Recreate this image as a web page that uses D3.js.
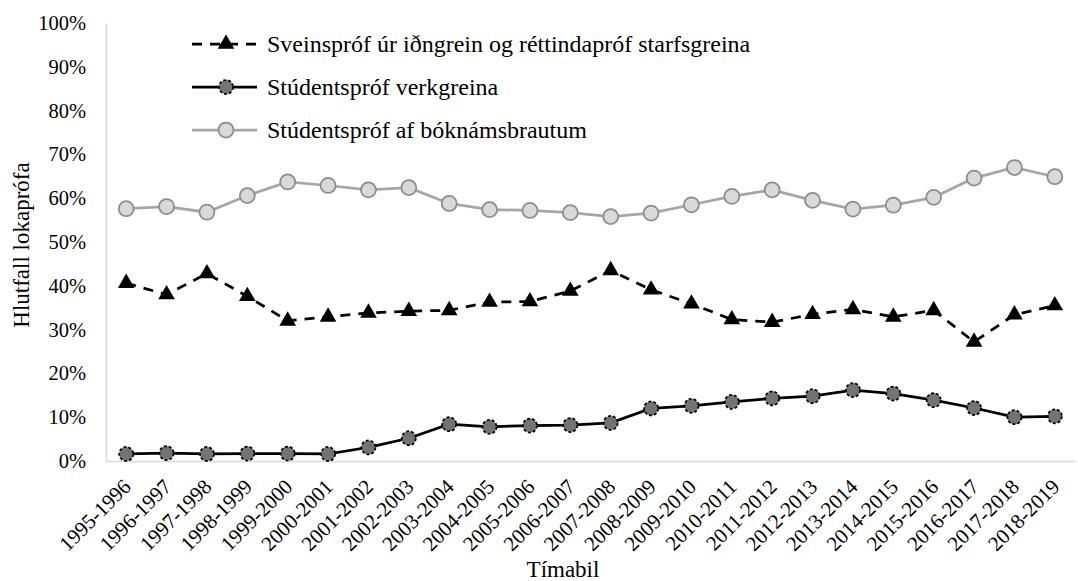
<!DOCTYPE html>
<html><head><meta charset="utf-8">
<script src="https://cdn.jsdelivr.net/npm/d3@7"></script>
<style>body{margin:0;background:#fff;} svg text{font-family:"Liberation Serif","Tinos","Times New Roman",Times,"DejaVu Serif",serif !important;fill:#000;}</style>
</head><body><svg id="c" width="1078" height="581"></svg>
<script>
const categories = ["1995-1996","1996-1997","1997-1998","1998-1999","1999-2000","2000-2001","2001-2002","2002-2003","2003-2004","2004-2005","2005-2006","2006-2007","2007-2008","2008-2009","2009-2010","2010-2011","2011-2012","2012-2013","2013-2014","2014-2015","2015-2016","2016-2017","2017-2018","2018-2019"];
const sveinsprof = [40.6,38.0,42.8,37.6,32.0,32.9,33.8,34.2,34.4,36.3,36.4,38.8,43.5,39.1,35.9,32.3,31.7,33.5,34.6,32.9,34.4,27.2,33.4,35.5];
const studentVerk = [1.6,1.8,1.6,1.7,1.7,1.6,3.1,5.2,8.4,7.8,8.1,8.2,8.7,12.0,12.6,13.5,14.3,14.8,16.2,15.4,13.9,12.1,10.0,10.2];
const studentBok = [57.6,58.1,56.8,60.6,63.7,62.9,61.9,62.4,58.8,57.4,57.2,56.7,55.8,56.6,58.5,60.4,61.9,59.5,57.5,58.4,60.2,64.6,67.0,64.9];
const yTicks = [0,10,20,30,40,50,60,70,80,90,100];
const seriesNames = ["Sveinspróf úr iðngrein og réttindapróf starfsgreina","Stúdentspróf verkgreina","Stúdentspróf af bóknámsbrautum"];

const FONT = '"Liberation Serif", "Tinos", "Times New Roman", Times, "DejaVu Serif", serif';
const svg = d3.select("#c");
const L=106, R=1075, T=23, B=461;
const x = d3.scaleBand().domain(categories).range([L,R]).padding(0);
const y = d3.scaleLinear().domain([0,100]).range([B,T]);
const cx = d => x(d)+x.bandwidth()/2;

const yAxis = d3.axisLeft(y).tickValues(yTicks).tickSize(0).tickPadding(20).tickFormat(d=>d+"%");
const gy = svg.append("g").attr("transform",`translate(${L},0)`).call(yAxis);
gy.attr("font-family",FONT).attr("font-size",20.5);
gy.select(".domain").attr("stroke","#d9d9d9").attr("stroke-width",1.5);

const xAxis = d3.axisBottom(x).tickSize(0).tickPadding(0);
const gx = svg.append("g").attr("transform",`translate(0,${B})`).call(xAxis);
gx.attr("font-family",FONT).attr("font-size",21);
gx.select(".domain").attr("stroke","#d9d9d9").attr("stroke-width",1.5);
gx.selectAll("text")
  .attr("text-anchor","end").attr("dy",null).attr("y",0)
  .attr("transform","translate(6,27) rotate(-45)");

svg.append("text").attr("x",563).attr("y",577).attr("text-anchor","middle").attr("font-size",23).attr("font-family",FONT).text("Tímabil");
svg.append("text").attr("transform","translate(29,245) rotate(-90)").attr("text-anchor","middle").attr("font-size",23).attr("font-family",FONT).text("Hlutfall lokaprófa");

const line = d3.line().x((d,i)=>cx(categories[i])).y(d=>y(d));

svg.append("path").datum(studentBok).attr("d",line).attr("fill","none").attr("stroke","#a6a6a6").attr("stroke-width",2.75);
svg.append("g").selectAll("circle").data(studentBok).join("circle")
  .attr("cx",(d,i)=>cx(categories[i])).attr("cy",d=>y(d)).attr("r",7.5)
  .attr("fill","#d9d9d9").attr("stroke","#8c8c8c").attr("stroke-width",1.75);

svg.append("path").datum(sveinsprof).attr("d",line).attr("fill","none").attr("stroke","#000").attr("stroke-width",2.75).attr("stroke-dasharray","10,8");
const tri = d3.symbol().type(d3.symbolTriangle).size(120);
svg.append("g").selectAll("path").data(sveinsprof).join("path")
  .attr("d",tri).attr("transform",(d,i)=>`translate(${cx(categories[i])},${y(d)})`)
  .attr("fill","#000");

svg.append("path").datum(studentVerk).attr("d",line).attr("fill","none").attr("stroke","#000").attr("stroke-width",2.75);
svg.append("g").selectAll("circle").data(studentVerk).join("circle")
  .attr("cx",(d,i)=>cx(categories[i])).attr("cy",d=>y(d)).attr("r",7)
  .attr("fill","#737373").attr("stroke","#000").attr("stroke-width",1.75).attr("stroke-dasharray","3,2");

const lx1=192, lx2=257, lm=226, tx=267;
const rows=[44,87,130];
const lg = svg.append("g");
lg.append("line").attr("x1",lx1).attr("x2",lx2).attr("y1",rows[0]).attr("y2",rows[0]).attr("stroke","#000").attr("stroke-width",2.75).attr("stroke-dasharray","10,8");
lg.append("path").attr("d",tri).attr("transform",`translate(${lm},${rows[0]})`).attr("fill","#000");
lg.append("line").attr("x1",lx1).attr("x2",lx2).attr("y1",rows[1]).attr("y2",rows[1]).attr("stroke","#000").attr("stroke-width",2.75);
lg.append("circle").attr("cx",lm).attr("cy",rows[1]).attr("r",7).attr("fill","#737373").attr("stroke","#000").attr("stroke-width",1.75).attr("stroke-dasharray","3,2");
lg.append("line").attr("x1",lx1).attr("x2",lx2).attr("y1",rows[2]).attr("y2",rows[2]).attr("stroke","#a6a6a6").attr("stroke-width",2.75);
lg.append("circle").attr("cx",lm).attr("cy",rows[2]).attr("r",7.5).attr("fill","#d9d9d9").attr("stroke","#8c8c8c").attr("stroke-width",1.75);
seriesNames.forEach((n,i)=>{
  lg.append("text").attr("x",tx).attr("y",rows[i]).attr("dy","0.35em").attr("font-size",24).attr("font-family",FONT).text(n);
});
</script></body></html>
